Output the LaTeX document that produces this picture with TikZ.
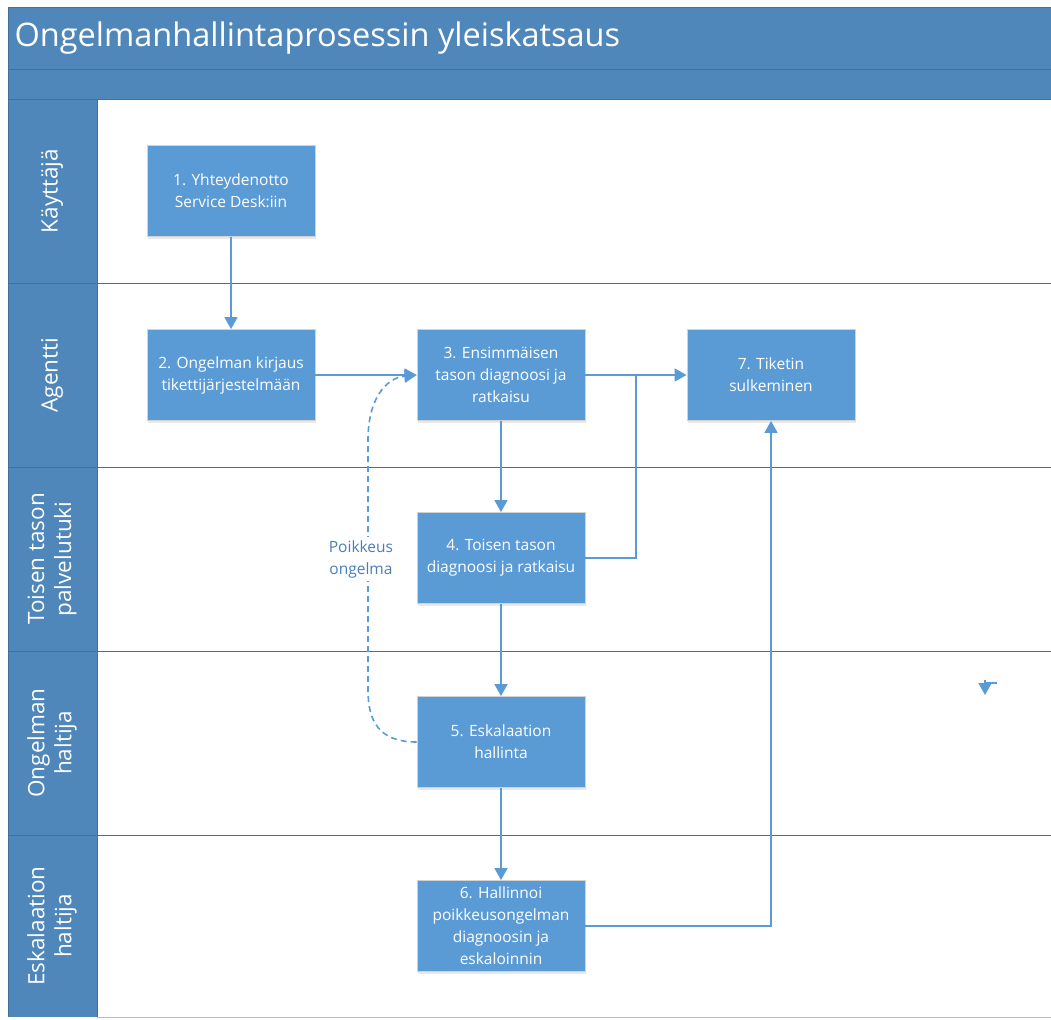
\documentclass[tikz,border=0pt]{standalone}
\usepackage{fontspec}
\setmainfont{Open Sans}
\usetikzlibrary{arrows.meta, positioning, shadows}
\definecolor{headblue}{HTML}{4F87BB}
\definecolor{headline}{HTML}{41719C}
\definecolor{boxblue}{HTML}{5B9BD5}
\definecolor{textblue}{HTML}{4A7EBB}

\begin{document}
\begin{tikzpicture}[x=1pt, y=-1pt,
    stepbox/.style={draw=gray!35, line width=0.8pt, fill=boxblue, text=white,
        minimum width=168pt, minimum height=91pt, align=center,
        font=\fontsize{15.5}{22}\selectfont,
        drop shadow={opacity=0.18, shadow xshift=1pt, shadow yshift=-2pt}},
    flow/.style={draw=boxblue, line width=1.6pt, -{Triangle[width=13pt, length=12pt]}},
    plainflow/.style={draw=boxblue, line width=1.6pt},
    lanelabel/.style={rotate=90, text=white, align=center, font=\fontsize{22.5}{27}\selectfont}]
    \useasboundingbox (0,0) rectangle (1051,1019);

    % Header and lane column
    \fill[headblue] (8,8) rectangle (1051,100);
    \fill[headblue] (8,100) rectangle (97,1017);
    \draw[headline, line width=1pt] (8,1017) -- (8,8) -- (1051,8);
    \draw[headline, line width=1pt] (8,70) -- (1051,70);
    \draw[headline, line width=1pt] (8,100) -- (1051,100);
    \draw[headline, line width=0.8pt] (97,100) -- (97,1017);
    \node[anchor=west, text=white, font=\fontsize{32.5}{38}\selectfont] (otsikko) at (11,38) {Ongelmanhallintaprosessin yleiskatsaus};

    % Lanes
    \foreach \y in {283,467,651,835} {
        \draw[headline, line width=1pt] (8,\y) -- (1051,\y);
    }
    \draw[boxblue!60, line width=1pt] (97,1017) -- (1051,1017);
    \foreach \i/\y/\txt in {1/191/{Käyttäjä}, 2/375/{Agentti}, 3/559/{Toisen tason\\palvelutuki},
                            4/743/{Ongelman\\haltija}, 5/926/{Eskalaation\\haltija}} {
        \node[lanelabel] (rata\i) at (52,\y) {\txt};
    }

    % Steps
    \node[stepbox] (yhteys) at (231,191) {1. Yhteydenotto\\Service Desk:iin};
    \node[stepbox] (kirjaus) at (231,375) {2. Ongelman kirjaus\\tikettijärjestelmään};
    \node[stepbox] (ensim) at (501,375) {3. Ensimmäisen\\tason diagnoosi ja\\ratkaisu};
    \node[stepbox] (sulku) at (771,375) {7. Tiketin\\sulkeminen};
    \node[stepbox] (toinen) at (501,558) {4. Toisen tason\\diagnoosi ja ratkaisu};
    \node[stepbox] (eskal) at (501,742) {5. Eskalaation\\hallinta};
    \node[stepbox] (hallin) at (501,926) {6. Hallinnoi\\poikkeusongelman\\diagnoosin ja\\eskaloinnin};

    % Connections
    \draw[flow] (yhteys) -- (kirjaus);
    \draw[flow] (kirjaus) -- (ensim);
    \draw[flow] (ensim) -- (sulku);
    \coordinate (liitos) at (636,375);
    \draw[plainflow] (toinen.east) -| (liitos);
    \draw[flow] (ensim) -- (toinen);
    \draw[flow] (toinen) -- (eskal);
    \draw[flow] (eskal) -- (hallin);
    \draw[flow] (hallin.east) -| (sulku.south);

    % Exception loop
    \draw[flow, dash pattern=on 6pt off 4pt] (eskal.west) .. controls (378,742) and (368,720) .. (368,690)
        -- (368,440) .. controls (368,400) and (385,378) .. (ensim.west);
    \node[fill=white, text=textblue, align=center, font=\fontsize{15.5}{22}\selectfont] (poikkeus) at (361,559) {Poikkeus\\ongelma};

    % Loose tip
    \coordinate (irto) at (985,680);
    \coordinate (irtoloppu) at (985,695);
    \draw[flow] (irto) -- (irtoloppu);
    \coordinate (irtosivu) at (997,683);
    \draw[plainflow] (985,683) -- (irtosivu);
\end{tikzpicture}
\end{document}
